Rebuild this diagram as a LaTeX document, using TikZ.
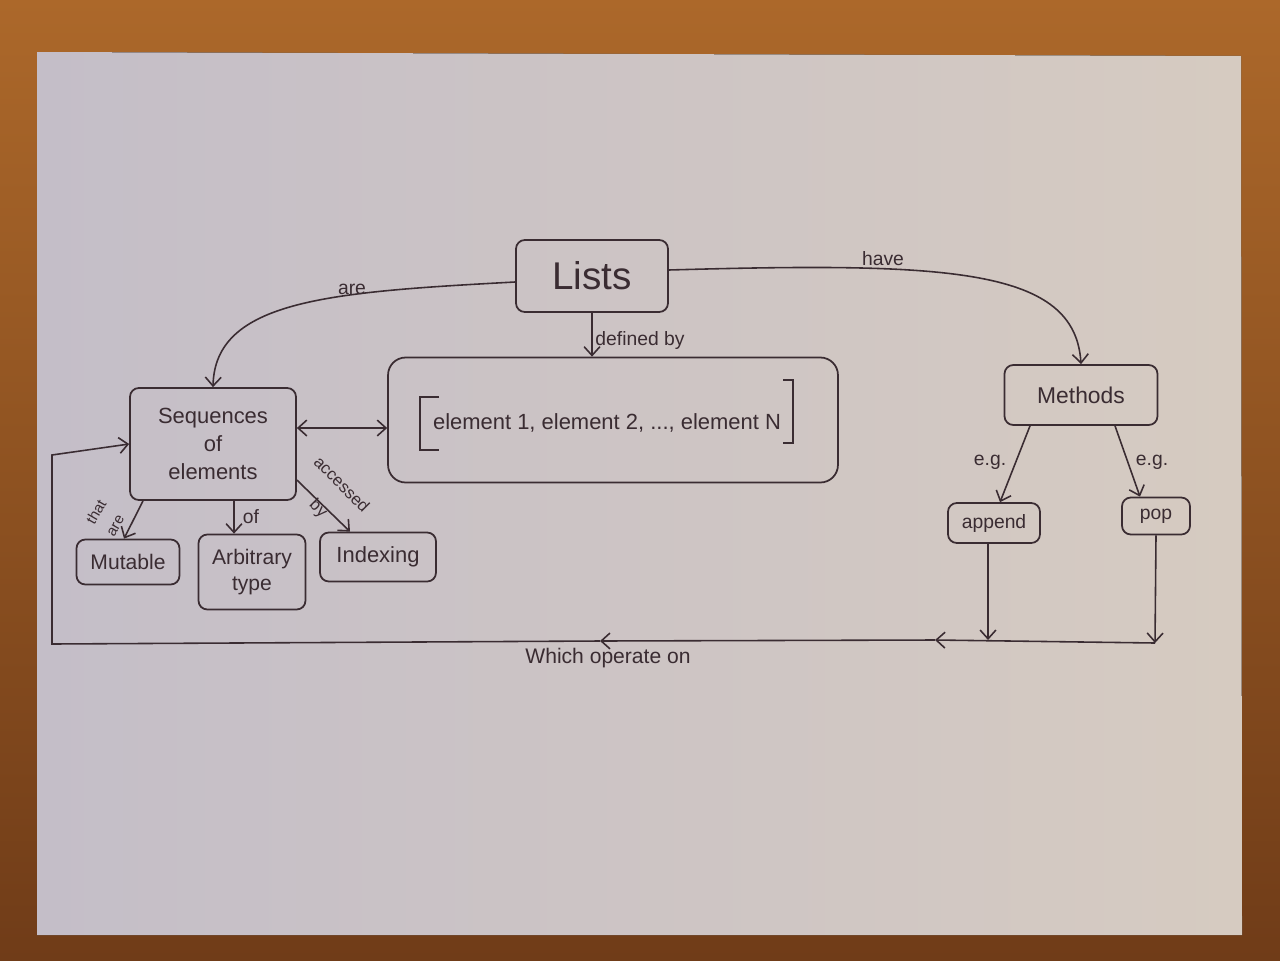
\documentclass[tikz,border=0pt]{standalone}
\usepackage{fontspec}
\setmainfont{Liberation Sans}
\usetikzlibrary{arrows.meta,calc}
\definecolor{ink}{RGB}{58,44,50}
\definecolor{woodtop}{RGB}{172,104,42}
\definecolor{woodbot}{RGB}{112,60,24}
\definecolor{paperL}{RGB}{196,190,200}
\definecolor{paperR}{RGB}{214,203,193}
\begin{document}
\begin{tikzpicture}[x=0.02cm,y=-0.02cm,
  box/.style={draw=ink, line width=1pt, rounded corners=5pt, align=center, text=ink, inner sep=2pt},
  lbl/.style={text=ink, font=\fontsize{11}{12}\selectfont, inner sep=1pt, align=center},
  con/.style={draw=ink, line width=0.9pt, -{Straight Barb[length=5pt,width=9pt]}},
  plainline/.style={draw=ink, line width=0.9pt}]
% background and paper
\useasboundingbox (0,0) rectangle (1280,960);
\fill[top color=woodtop, bottom color=woodbot] (0,0) rectangle (1280,960);
\fill[left color=paperL, right color=paperR] (37,52) -- (1241,56) -- (1242,935) -- (37,935) -- cycle;
% nodes
\node[box, minimum width=3.04cm, minimum height=1.44cm, font=\fontsize{22}{24}\selectfont] (lists) at (592,276) {Lists};
\node[box, minimum width=3.32cm, minimum height=2.24cm, font=\fontsize{12.5}{16}\selectfont] (seq) at (213,444) {Sequences\\of\\elements};
\node[box, minimum width=9cm, minimum height=2.5cm, rounded corners=10pt] (elem) at (613,420) {};
\node[text=ink, font=\fontsize{12.5}{14}\selectfont] (eltxt) at (607,423) {element 1, element 2, ..., element N};
\draw[plainline] (439,397) -- (420,397) -- (420,450) -- (439,450);
\draw[plainline] (783,380) -- (793,380) -- (793,443) -- (783,443);
\node[box, minimum width=3.06cm, minimum height=1.2cm, font=\fontsize{13}{15}\selectfont] (meth) at (1081,395) {Methods};
\node[box, minimum width=1.84cm, minimum height=0.8cm, font=\fontsize{11}{13}\selectfont] (app) at (994,523) {append};
\node[box, minimum width=1.36cm, minimum height=0.74cm, font=\fontsize{11}{13}\selectfont] (pop) at (1156,516) {pop};
\node[box, minimum width=2.06cm, minimum height=0.9cm, font=\fontsize{12}{14}\selectfont] (mut) at (128,562) {Mutable};
\node[box, minimum width=2.14cm, minimum height=1.5cm, font=\fontsize{12}{15}\selectfont] (arb) at (252,572) {Arbitrary\\type};
\node[box, minimum width=2.32cm, minimum height=0.98cm, font=\fontsize{12.5}{14}\selectfont] (idx) at (378,557) {Indexing};
% connectors
\draw[con] ($(lists.west)+(0,6)$) .. controls (330,292) and (215,300) .. (seq.north);
\draw[con] ($(lists.east)+(0,-6)$) .. controls (950,262) and (1075,268) .. (meth.north);
\draw[con] (lists.south) -- (lists.south |- elem.north);
\draw[con, {Straight Barb[length=5pt,width=9pt]}-{Straight Barb[length=5pt,width=9pt]}] ($(seq.east)+(0,-16)$) -- ($(elem.west)+(0,8)$);
\draw[con] ($(seq.south)+(-70,0)$) -- ($(mut.north)+(-4,0)$);
\draw[con] ($(seq.south)+(21,0)$) -- ($(arb.north)+(-18,0)$);
\draw[con] ($(seq.east)+(0,36)$) -- ($(idx.north)+(-28,0)$);
\draw[con] ($(meth.south)+(-51,0)$) -- ($(app.north)+(6,0)$);
\draw[con] ($(meth.south)+(34,0)$) -- ($(pop.north)+(-16,0)$);
% bottom feedback line
\coordinate (jA) at (988,640);
\coordinate (jP) at (1155,643);
\coordinate (mk1) at (935,640);
\coordinate (mk2) at (600,641);
\coordinate (bl) at (52,644);
\coordinate (tl) at (52,455);
\draw[con] ($(app.south)+(-6,0)$) -- (jA);
\draw[con] (pop.south) -- (jP);
\draw[con] (jP) -- (mk1);
\draw[con] (mk1) -- (mk2);
\draw[con] (mk2) -- (bl) -- (tl) -- (seq.west);
% labels
\node[lbl] (lare) at (352,289) {are};
\node[lbl] (lhave) at (883,259) {have};
\node[lbl] (ldef) at (640,340) {defined by};
\node[lbl, font=\fontsize{8.5}{9}\selectfont, rotate=60] (lthat) at (96,512) {that};
\node[lbl, font=\fontsize{8.5}{9}\selectfont, rotate=60] (lthatare) at (116,526) {are};
\node[lbl] (lof) at (251,517) {of};
\node[lbl, font=\fontsize{9.5}{10}\selectfont, rotate=-45] (lacc) at (342,484) {accessed};
\node[lbl, font=\fontsize{9.5}{10}\selectfont, rotate=-45] (lby) at (318,509) {by};
\node[lbl] (leg1) at (990,462) {e.g.};
\node[lbl] (leg2) at (1152,462) {e.g.};
\node[lbl, font=\fontsize{12}{14}\selectfont] (lwhich) at (608,658) {Which operate on};
\end{tikzpicture}
\end{document}
